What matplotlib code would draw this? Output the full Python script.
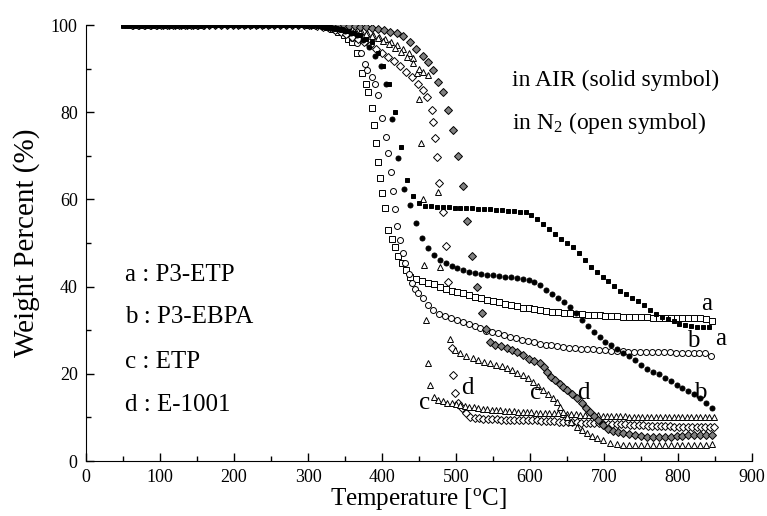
import matplotlib
matplotlib.use("Agg")
import matplotlib.pyplot as plt
from matplotlib.ticker import MultipleLocator

plt.rcParams['font.family'] = ['Liberation Serif', 'DejaVu Serif']
plt.rcParams['mathtext.fontset'] = 'custom'
plt.rcParams['mathtext.rm'] = 'Liberation Serif'
plt.rcParams['mathtext.it'] = 'Liberation Serif:italic'

# ---------------- data (temperature degC, weight %) ----------------
# a : P3-ETP in air (solid squares)
a_air = [(50,100),(58,100),(66,100),(74,100),(82,100),(90,100),(98,100),(106,100),(114,100),(122,100),(130,100),(138,100),
         (146,100),(154,100),(162,100),(170,100),(178,100),(186,100),(194,100),(202,100),(210,100),(218,100),(226,100),(234,100),
         (242,100),(250,100),(258,100),(266,100),(274,100),(282,100),(290,100),(298,100),(306,100),
         (314,99.9),(322,99.8),(330,99.6),(338,99.3),(346,99.0),(354,98.6),(362,98.1),(370,97.6),(378,96.9),(386,96.0),
         (394,93.5),(402,90.5),(410,86.5),(418,80.0),(426,72.0),(434,64.5),(442,60.8),(450,59.2),(458,58.6),(466,58.4),
         (474,58.3),(482,58.2),(490,58.2),(498,58.1),(506,58.1),(514,58.0),(522,58.0),(530,57.9),(538,57.8),(546,57.7),
         (554,57.6),(562,57.5),(570,57.4),(578,57.3),(586,57.2),(594,57.0),(602,56.5),(610,55.5),(618,54.3),(626,53.2),
         (634,52.1),(642,51.0),(650,50.0),(658,49.0),(666,47.6),(674,46.1),(682,44.6),(690,43.4),(698,42.3),(706,41.2),
         (714,40.1),(722,39.1),(730,38.3),(738,37.5),(746,36.6),(754,35.7),(762,34.6),(770,33.7),(778,33.1),(786,32.5),
         (794,32.0),(802,31.5),(810,31.1),(818,30.9),(826,30.8),(834,30.7),(842,30.7)]

# b : P3-EBPA in air (solid circles)
b_air = [(54,100),(62,100),(70,100),(78,100),(86,100),(94,100),(102,100),(110,100),(118,100),(126,100),(134,100),(142,100),
         (150,100),(158,100),(166,100),(174,100),(182,100),(190,100),(198,100),(206,100),(214,100),(222,100),(230,100),(238,100),
         (246,100),(254,100),(262,100),(270,100),(278,100),(286,100),(294,100),(302,100),
         (310,99.9),(318,99.8),(326,99.6),(334,99.4),(342,99.1),(350,98.7),(358,98.2),(366,97.6),(374,96.6),(382,95.0),
         (390,93.0),(398,90.5),(406,86.5),(414,78.5),(422,69.5),(430,62.5),(438,58.8),(446,54.6),(454,51.2),(462,48.8),
         (470,47.2),(478,46.0),(486,45.3),(494,44.7),(502,44.3),(510,43.8),(518,43.4),(526,43.1),(534,42.9),(542,42.7),
         (550,42.6),(558,42.4),(566,42.2),(574,42.1),(582,42.0),(590,41.8),(598,41.4),(606,41.0),(614,40.4),(622,39.3),
         (630,38.3),(638,37.4),(646,36.4),(654,35.3),(662,33.9),(670,32.4),(678,31.0),(686,29.6),(694,28.4),(702,27.4),
         (710,26.5),(718,25.6),(726,24.8),(734,24.0),(742,23.1),(750,22.1),(758,21.2),(766,20.5),(774,19.9),(782,19.1),
         (790,18.3),(798,17.5),(806,16.8),(814,16.1),(822,15.3),(830,14.4),(838,13.2),(846,12.2)]

# a : P3-ETP in N2 (open squares)
a_n2 = [(52,100),(60,100),(68,100),(76,100),(84,100),(92,100),(100,100),(108,100),(116,100),(124,100),(132,100),(140,100),
        (148,100),(156,100.5),(164,100.5),(172,100.5),(180,100.5),(188,100.5),(196,100.5),(204,100.5),(212,100.5),(220,100.5),
        (228,100.5),(236,100.5),(244,100.5),(252,100.5),(260,100.5),(268,100.5),(276,100.5),(284,100.5),(292,100.4),(300,100.3),
        (308,100.1),(316,99.9),(324,99.5),(332,99.0),(340,98.4),
        (348,97.6),(354,96.8),(360,96.0),(366,93.5),(373,89.0),(378,86.5),(381,84.6),(386,81.0),(389,77.0),(392,73.0),
        (395,68.6),(397,65.0),(400,61.5),(404,58.0),(408,53.0),(413,51.0),(418,49.0),(422,47.0),(427,45.4),(432,43.9),
        (438,42.3),(446,41.8),(454,41.3),(462,40.9),(470,40.5),(478,40.0),(486,39.5),(494,39.1),(502,38.8),(510,38.5),
        (518,38.1),(526,37.7),(534,37.3),(542,37.0),(550,36.7),(558,36.4),(566,36.1),(574,35.8),(582,35.5),(590,35.2),
        (598,35.0),(606,34.8),(614,34.6),(622,34.4),(630,34.2),(638,34.1),(646,34.0),(654,33.9),(662,33.8),(670,33.7),
        (678,33.6),(686,33.5),(694,33.4),(702,33.3),(710,33.2),(718,33.2),(726,33.1),(734,33.1),(742,33.0),(750,33.0),
        (758,33.0),(766,32.9),(774,32.9),(782,32.9),(790,32.8),(798,32.8),(806,32.8),(814,32.7),(822,32.7),(830,32.7),
        (838,32.6),(846,32.0)]

# b : P3-EBPA in N2 (open circles)
b_n2 = [(56,100),(64,100),(72,100),(80,100),(88,100),(96,100),(104,100),(112,100),(120,100),(128,100),(136,100),(144,100),
        (152,100),(160,100.4),(168,100.4),(176,100.4),(184,100.4),(192,100.4),(200,100.4),(208,100.4),(216,100.4),(224,100.4),
        (232,100.4),(240,100.4),(248,100.4),(256,100.4),(264,100.4),(272,100.4),(280,100.4),(288,100.4),(296,100.3),(304,100.1),
        (312,99.9),(320,99.6),(328,99.3),(336,98.9),(344,98.5),
        (352,97.9),(360,97.0),(366,95.8),(372,93.5),(377,91.0),(380,89.7),(386,88.0),(390,86.5),(395,84.0),(400,78.6),
        (405,74.3),(408,70.6),(412,66.3),(415,62.0),(418,57.8),(420,54.0),(424,50.7),(428,47.8),(431,45.4),(436,42.8),
        (440,40.8),(445,39.5),(449,38.5),(455,37.3),(462,35.8),(469,34.6),(477,33.8),(485,33.2),(493,32.7),(501,32.3),
        (509,31.9),(517,31.4),(525,30.9),(533,30.4),(541,29.9),(549,29.6),(557,29.3),(565,28.9),(573,28.5),(581,28.1),
        (589,27.8),(597,27.5),(605,27.2),(613,26.9),(621,26.7),(629,26.5),(637,26.3),(645,26.1),(653,26.0),(661,25.9),
        (669,25.8),(677,25.7),(685,25.6),(693,25.5),(701,25.4),(709,25.3),(717,25.2),(725,25.2),(733,25.1),(741,25.1),
        (749,25.0),(757,25.0),(765,25.0),(773,24.9),(781,24.9),(789,24.9),(797,24.8),(805,24.8),(813,24.8),(821,24.7),
        (829,24.7),(837,24.7),(845,24.0)]

# c : ETP in air (triangles, two-step loss)
c_air = [(58,100),(66,100),(74,100),(82,100),(90,100),(98,100),(106,100),(114,100),(122,100),(130,100),(138,100),(146,100),
         (154,100),(162,100.3),(170,100.3),(178,100.3),(186,100.3),(194,100.3),(202,100.3),(210,100.3),(218,100.3),(226,100.3),
         (234,100.3),(242,100.3),(250,100.3),(258,100.3),(266,100.3),(274,100.3),(282,100.3),(290,100.3),(298,100.2),(306,100.1),
         (314,99.9),(322,99.7),(330,99.5),(338,99.3),(346,99.1),(354,98.9),(362,98.6),(370,98.3),(378,97.9),(386,97.5),
         (394,97.0),(402,96.4),(410,95.7),(418,94.8),(426,93.8),(434,92.6),(442,91.3),(450,90.0),(456,89.2),(462,88.5),
         (476,61.7),(479,44.4),(492,28.0),(499,25.5),(505,24.7),(514,24.1),(523,23.6),(530,23.2),(538,22.8),(546,22.5),
         (554,22.1),(562,21.7),(569,21.3),(576,20.8),(583,20.2),(591,19.7),(597,19.0),(604,18.1),(611,17.2),(618,16.3),
         (624,15.3),(631,14.4),(636,13.5),(641,12.3),(645,11.2),(650,10.0),(656,9.0),(663,7.8),(670,7.0),(677,6.4),
         (684,5.8),(691,5.3),(699,4.8),(708,4.2),(717,3.8),(726,3.7),(734,3.6),(742,3.6),(750,3.6),(758,3.6),
         (766,3.6),(774,3.6),(782,3.6),(790,3.6),(798,3.6),(806,3.7),(814,3.7),(822,3.7),(830,3.7),(838,3.7),(846,3.8)]

# c : ETP in N2 (triangles, single sharp drop)
c_n2 = [(60,100),(68,100),(76,100),(84,100),(92,100),(100,100),(108,100),(116,100),(124,100),(132,100),(140,100),(148,100),
        (156,100),(164,100.2),(172,100.2),(180,100.2),(188,100.2),(196,100.2),(204,100.2),(212,100.2),(220,100.2),(228,100.2),
        (236,100.2),(244,100.2),(252,100.2),(260,100.2),(268,100.2),(276,100.2),(284,100.2),(292,100.2),(300,100.1),(308,100.0),
        (316,99.9),(324,99.8),(332,99.7),(340,99.6),(348,99.4),(356,99.2),(364,98.9),(372,98.6),(380,98.2),(388,97.8),
        (396,97.3),(404,96.8),(412,96.2),(420,95.5),(428,94.6),(436,93.6),(442,92.4),(447,89.0),(450,83.0),(453,73.0),
        (455,60.0),(457,45.0),(459,32.3),(462,22.5),(465,17.4),(470,14.6),(476,14.0),(482,13.7),(488,13.4),(494,13.2),
        (500,13.0),(506,12.8),(512,12.6),(518,12.4),(524,12.3),(530,12.1),(536,12.0),(542,11.9),(548,11.8),(554,11.7),
        (560,11.6),(566,11.5),(572,11.4),(578,11.4),(584,11.3),(590,11.3),(596,11.2),(602,11.2),(608,11.1),(614,11.1),
        (620,11.0),(626,11.0),(632,10.9),(638,10.9),(644,10.8),(650,10.8),(656,10.7),(662,10.7),(668,10.6),(674,10.6),
        (680,10.5),(686,10.5),(692,10.5),(698,10.4),(704,10.4),(710,10.4),(716,10.3),(722,10.3),(728,10.3),(734,10.2),
        (740,10.2),(746,10.2),(752,10.2),(758,10.1),(764,10.1),(770,10.1),(776,10.1),(782,10.0),(788,10.0),(794,10.0),
        (800,10.0),(806,10.0),(812,10.0),(818,10.0),(824,10.0),(830,10.0),(836,10.0),(842,10.0),(848,10.0)]

# d : E-1001 in air (grey diamonds)
d_air = [(62,100),(70,100),(78,100),(86,100),(94,100),(102,100),(110,100),(118,100),(126,100),(134,100),(142,100),(150,100),
         (158,100),(166,100),(174,100),(182,100),(190,100),(198,100),(206,100),(214,100),(222,100),(230,100),(238,100),(246,100),
         (254,100),(262,100),(270,100),(278,100),(286,100),(294,100),(302,100),(310,100),(318,100),(326,100),(334,100),(342,100),
         (349,99.9),(356,99.8),(363,99.7),(370,99.6),(378,99.5),(387,99.3),(395,99.0),(403,98.8),(411,98.5),(420,98.2),
         (428,97.4),(438,96.0),(446,94.6),(455,93.0),(462,91.5),(469,89.7),(476,87.0),(482,84.6),(489,80.5),(496,76.0),
         (503,70.0),(509,63.0),(515,55.0),(522,47.0),(528,40.0),(535,34.0),(540,30.2),(546,27.3),(553,26.7),(561,26.3),
         (569,26.0),(576,25.5),(583,25.0),(590,24.3),(598,23.5),(606,23.0),(614,22.5),(619,21.5),(623,20.4),(629,19.3),
         (634,18.5),(640,17.7),(645,17.0),(650,16.2),(657,15.4),(664,14.4),(670,13.3),(675,12.2),(681,11.2),(686,10.3),
         (692,9.3),(699,8.3),(705,7.4),(712,6.9),(719,6.6),(726,6.4),(734,6.1),(742,5.9),(750,5.7),(758,5.6),
         (766,5.5),(774,5.5),(782,5.5),(790,5.6),(798,5.7),(806,5.8),(814,5.9),(822,6.0),(830,6.0),(838,6.0),(846,6.0)]

# d : E-1001 in N2 (open diamonds)
d_n2 = [(64,100),(72,100),(80,100),(88,100),(96,100),(104,100),(112,100),(120,100),(128,100),(136,100),(144,100),(152,100),
        (160,100),(168,100.3),(176,100.3),(184,100.3),(192,100.3),(200,100.3),(208,100.3),(216,100.3),(224,100.3),(232,100.3),
        (240,100.3),(248,100.3),(256,100.3),(264,100.3),(272,100.3),(280,100.3),(288,100.3),(296,100.3),
        (304,100.1),(312,99.8),(320,99.5),(328,99.2),(336,98.8),(344,98.3),(352,97.9),(360,97.3),(368,96.7),(376,96.1),
        (384,95.4),(392,94.6),(400,93.6),(408,92.7),(416,91.7),(424,90.5),(432,89.2),(440,88.0),(448,86.5),(455,85.0),
        (461,83.5),(467,80.5),(469,77.8),(472,74.0),(474,69.7),(477,63.8),(483,57.0),(486,49.3),(489,41.0),(495,26.0),
        (496,19.7),(499,15.6),(503,13.3),(508,12.2),(513,11.0),(519,10.1),(525,9.9),(531,9.8),(537,9.7),(543,9.7),
        (549,9.6),(555,9.6),(561,9.5),(567,9.5),(573,9.5),(579,9.4),(585,9.4),(591,9.4),(597,9.4),(603,9.3),
        (609,9.3),(615,9.2),(621,9.2),(627,9.1),(633,9.1),(639,9.0),(645,9.0),(651,8.9),(657,8.9),(663,8.9),
        (669,8.8),(675,8.8),(681,8.7),(687,8.7),(693,8.7),(699,8.6),(705,8.6),(711,8.5),(717,8.5),(723,8.4),
        (729,8.4),(735,8.3),(741,8.3),(747,8.2),(753,8.2),(759,8.1),(765,8.1),(771,8.1),(777,8.0),(783,8.0),
        (789,8.0),(795,7.9),(801,7.9),(807,7.9),(813,7.9),(819,7.8),(825,7.8),(831,7.8),(837,7.8),(843,7.8),(849,7.8)]

# curve labels (text, temperature, weight)
curve_labels = [("a", 839, 36.0), ("a", 858, 28.0), ("b", 820, 27.5), ("b", 830, 15.5),
                ("c", 608, 15.5), ("d", 672, 15.5), ("d", 516, 16.7), ("c", 458, 13.3)]
legend_lines = ["a : P3-ETP", "b : P3-EBPA", "c : ETP", "d : E-1001"]
legend_y = [42.7, 33.0, 22.7, 12.8]

# ---------------- drawing ----------------
fig = plt.figure(figsize=(7.67, 5.16), dpi=100)
ax = fig.add_axes([86/767, 1-461/516, (752-86)/767, (461-25)/516])

def draw(series, marker, face, size, z=2, ew=0.7):
    T, W = zip(*series)
    ax.plot(T, W, linestyle='none', marker=marker, markersize=size,
            markerfacecolor=face, markeredgecolor='black', markeredgewidth=ew, zorder=z)

draw(a_n2, 's', 'white', 4.0)
draw(b_n2, 'o', 'white', 4.3)
draw(d_n2, 'D', 'white', 3.8)
draw(c_n2, '^', 'white', 4.6)
draw(c_air, '^', 'white', 4.6)
draw(d_air, 'D', '#808080', 3.8, 3)
draw(a_air, 's', 'black', 3.4, 3)
draw(b_air, 'o', 'black', 3.6, 3)

ax.set_xlim(0, 900)
ax.set_ylim(0, 100)
ax.spines['top'].set_visible(False)
ax.spines['right'].set_visible(False)
ax.xaxis.set_major_locator(MultipleLocator(100))
ax.xaxis.set_minor_locator(MultipleLocator(50))
ax.yaxis.set_major_locator(MultipleLocator(20))
ax.yaxis.set_minor_locator(MultipleLocator(10))
ax.tick_params(which='both', direction='in', labelsize=13)
ax.tick_params(which='major', length=6, width=1)
ax.tick_params(which='minor', length=3.5, width=1)
ax.tick_params(axis='x', pad=6)
ax.tick_params(axis='y', pad=6)

ax.set_xlabel(r'Temperature [$^{\mathrm{o}}$C]', fontsize=18, labelpad=0)
ax.set_ylabel('Weight Percent (%)', fontsize=21, labelpad=8)

for s, x, y in curve_labels:
    ax.text(x, y, s, fontsize=18, ha='center', va='center')

ax.text(576, 87.4, 'in AIR (solid symbol)', fontsize=17, ha='left', va='center')
ax.text(576, 77.5, r'in N$_2$ (open symbol)', fontsize=17, ha='left', va='center')

for s, y in zip(legend_lines, legend_y):
    ax.text(53, y, s, fontsize=18, ha='left', va='center')

fig.savefig('out.png', dpi=100)
